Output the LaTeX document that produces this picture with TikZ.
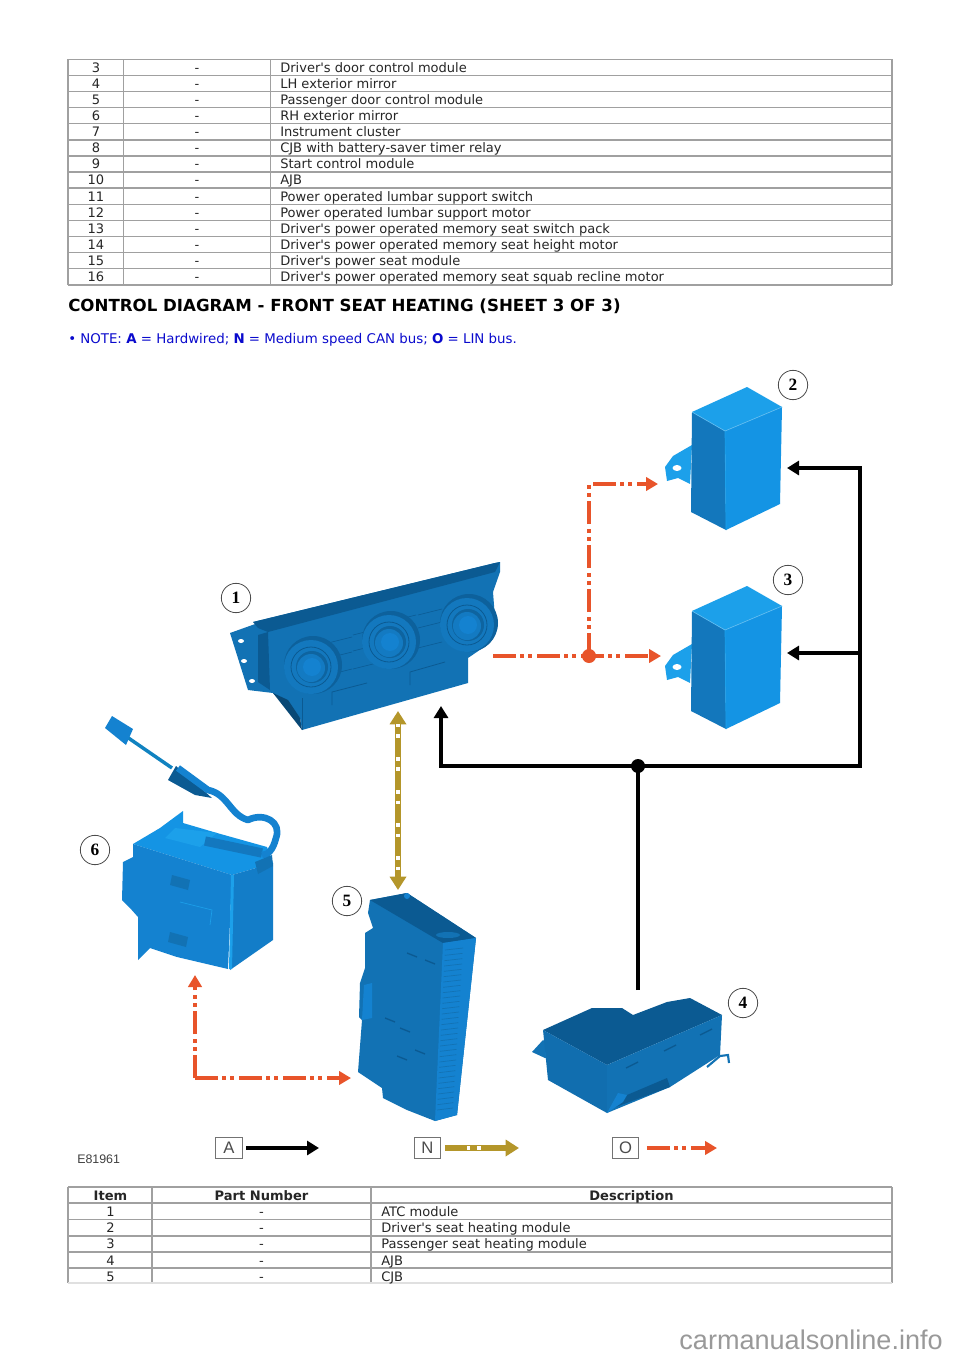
\documentclass[tikz,border=0pt]{standalone}
\usepackage{fontspec}
\setmainfont{DejaVu Sans}[Ligatures=TeXOff]
\newfontfamily\calloutfont{Liberation Serif}
\newfontfamily\legendfont{Liberation Sans}
\usetikzlibrary{positioning, arrows.meta, shapes}
\definecolor{rulegray}{HTML}{A0A0A0}
\definecolor{noteblue}{HTML}{0A0ACD}
\definecolor{busorange}{HTML}{E8542A}
\definecolor{busgold}{HTML}{B4962A}
\definecolor{blueshade}{HTML}{0B5A92}
\definecolor{bluebody}{HTML}{1272B4}
\definecolor{bluemid}{HTML}{1482D0}
\definecolor{bluebright}{HTML}{1494E4}
\definecolor{bluepale}{HTML}{1CA0EA}
\newcommand{\tablefont}{\fontsize{9.78pt}{11pt}\selectfont}
\newcommand{\seatmodule}[2]{
    \begin{scope}[shift={(#1,#2)}]
        \fill[bluepale] (692,445) -- (673,456) -- (665,467) -- (667,481) -- (678,478) -- (690,484) -- cycle;
        \fill[white] (677,468) ellipse (4.5 and 3);
        \fill[bluebody!70!bluemid] (692,412) -- (725,431) -- (726,530) -- (691,512) -- cycle;
        \fill[bluebright] (725,431) -- (782,407) -- (780,504) -- (726,530) -- cycle;
        \fill[bluepale] (692,412) -- (747,387) -- (782,407) -- (725,431) -- cycle;
        \draw[bluepale!70!white, line width=0.5pt] (692,412) -- (725,431) -- (782,407);
        \draw[bluepale, line width=0.5pt] (725,431) -- (726,530);
    \end{scope}
}
\tikzset{
    hardwired/.style={line width=3.1pt, draw=black},
    hardtip/.style={-{Triangle[width=10.5pt,length=9pt]}},
    linbus/.style={line width=3.1pt, draw=busorange, dash pattern=on 17pt off 3.5pt on 3pt off 3pt on 3pt off 3.5pt},
    lintip/.style={-{Triangle[width=10pt,length=9pt]}},
    canbus/.style={line width=4.6pt, draw=busgold},
    cantip/.tip={Triangle[width=12pt,length=10pt]},
    candots/.style={line width=2.4pt, draw=white, dash pattern=on 2.6pt off 5.2pt on 2.6pt off 14.4pt},
    callout/.style={shape=circle, draw=black!70, fill=white, line width=0.6pt, minimum size=22pt, inner sep=0pt, font=\calloutfont\bfseries\fontsize{13pt}{13pt}\selectfont},
    legendbox/.style={draw=black!55, line width=0.7pt, minimum width=20pt, minimum height=15.5pt, inner sep=0pt, outer sep=3pt, text=black!70, font=\legendfont\fontsize{12.5pt}{13pt}\selectfont},
    cell/.style={inner sep=0pt, anchor=base, font=\tablefont, text=black!85},
    celltext/.style={cell, anchor=base west},
    headcell/.style={cell, font=\tablefont\bfseries},
    partline/.style={blueshade, line width=0.6pt}
}
\begin{document}
\begin{tikzpicture}[x=0.75pt, y=-0.75pt]
    \fill[white] (0,0) rectangle (960,1358);
    \useasboundingbox (0,0) rectangle (960,1358);

    \foreach \i in {0,...,14}
        \draw[rulegray, line width=1.1pt] (68,59.3+16.11*\i) -- (892,59.3+16.11*\i);
    \foreach \xpos in {68,123.7,270.3,892}
        \draw[rulegray, line width=1.1pt] (\xpos,59.3) -- (\xpos,284.9);
    \foreach \num/\desc [count=\i from 0] in {3/Driver's door control module, 4/LH exterior mirror, 5/Passenger door control module, 6/RH exterior mirror, 7/Instrument cluster, 8/CJB with battery-saver timer relay, 9/Start control module, 10/AJB, 11/Power operated lumbar support switch, 12/Power operated lumbar support motor, 13/Driver's power operated memory seat switch pack, 14/Driver's power operated memory seat height motor, 15/Driver's power seat module, 16/Driver's power operated memory seat squab recline motor} {
        \node[cell] (upnum\num) at (96,72.2+16.11*\i) {\num};
        \node[cell] (updash\num) at (197,72.2+16.11*\i) {-};
        \node[celltext] (updesc\num) at (280,72.2+16.11*\i) {\desc};
    }

    \node[inner sep=0pt, anchor=base west, font=\bfseries\fontsize{12.47pt}{14pt}\selectfont, text=black] (heading) at (68,311.5) {CONTROL DIAGRAM - FRONT SEAT HEATING (SHEET 3 OF 3)};
    \node[inner sep=0pt, anchor=base west, font=\fontsize{10.02pt}{11pt}\selectfont, text=noteblue] (note) at (68,343.5) {• NOTE: \textbf{A} = Hardwired; \textbf{N} = Medium speed CAN bus; \textbf{O} = LIN bus.};

    \seatmodule{0}{0}
    \seatmodule{0}{199}

    % ATC module
    \fill[bluebody] (230,633) -- (258,623) -- (253,622) -- (495,563) -- (500,562) -- (500,572) -- (493,592) -- (495,618) -- (487,645) -- (468,658) -- (468,683) -- (302,730) -- (300,718) -- (288,708) -- (273,693) -- (248,690) -- cycle;
    \fill[blueshade] (253,622) -- (495,563) -- (500,562) -- (495,572) -- (268,632) -- (258,628) -- cycle;
    \fill[blueshade] (258,635) -- (268,632) -- (270,690) -- (258,682) -- cycle;
    \fill[blueshade!80!black] (273,693) -- (302,730) -- (300,718) -- (288,700) -- cycle;
    \draw[partline] (302,698) -- (302,730);
    \foreach \xpos/\ypos in {404/618, 404/630, 404/650, 430/612, 430/625, 430/645, 340/640, 340/655, 340/672, 365/632, 365/648, 365/666}
        \draw[partline, line width=0.4pt] (\xpos-12,\ypos+3) -- (\xpos+12,\ypos-3);
    \foreach \knobx/\knoby in {311/667, 389/642, 467/625} {
        \fill[blueshade!70!bluebody] (\knobx+2,\knoby-2) circle (29);
        \fill[bluebody!65!bluemid] (\knobx,\knoby) circle (27);
        \draw[partline] (\knobx,\knoby) circle (20);
        \fill[blueshade!60!bluebody] (\knobx+1,\knoby) circle (16);
        \fill[bluebody!50!bluemid] (\knobx,\knoby+1) circle (14);
        \fill[bluemid] (\knobx+1,\knoby) circle (9);
    }
    \foreach \holex/\holey in {241/641, 244/661, 252/681}
        \fill[white] (\holex,\holey) ellipse (3 and 2);
    \draw[partline] (332,705) -- (332,692) -- (367,683);
    \draw[partline] (410,685) -- (410,672) -- (445,662);

    % driver's seat switch pack
    \fill[bluebright] (133,844) -- (160,828) -- (183,811) -- (183,823) -- (217,833) -- (267,847) -- (273,863) -- (232,875) -- cycle;
    \fill[bluemid] (133,844) -- (232,875) -- (228,969) -- (177,957) -- (150,948) -- (138,960) -- (138,917) -- (130,908) -- (122,900) -- (123,862) -- (133,857) -- cycle;
    \fill[bluemid!70!bluebody] (232,875) -- (273,863) -- (273,940) -- (230,970) -- cycle;
    \fill[bluepale] (231,875) -- (234,875) -- (232,969) -- (229,969) -- cycle;
    \fill[bluepale] (175,828) -- (217,833) -- (200,847) -- (165,838) -- cycle;
    \fill[bluebody] (172,875) -- (190,880) -- (188,890) -- (170,885) -- cycle;
    \fill[bluebody] (170,932) -- (188,937) -- (186,947) -- (168,942) -- cycle;
    \draw[bluepale, line width=0.5pt] (180,902) -- (212,910) -- (210,925);
    \draw[bluemid!80!teal, line width=2.6pt] (127,737) -- (172,768);
    \fill[bluemid] (105,728) -- (112,716) -- (133,729) -- (126,745) -- cycle;
    \fill[blueshade] (168,780) -- (176,766) -- (212,798) -- (195,795) -- cycle;
    \draw[bluebody!60!bluemid, line width=7pt, line join=round] (205,841) -- (262,853);
    \draw[bluemid, line width=5pt, line join=round] (178,768) -- (208,790) .. controls (228,794) and (230,815) .. (248,820) .. controls (264,812) and (282,822) .. (276,838) .. controls (273,850) and (268,855) .. (262,855);
    \fill[bluebody] (255,862) -- (272,855) -- (273,866) -- (258,874) -- cycle;

    % CJB
    \fill[bluebody] (370,900) -- (407,893) -- (476,938) -- (457,1115) -- (435,1121) -- (407,1110) -- (383,1098) -- (382,1088) -- (358,1072) -- (362,1020) -- (359,1017) -- (360,983) -- (365,968) -- (365,933) -- (373,928) -- (368,913) -- cycle;
    \fill[blueshade] (370,900) -- (407,893) -- (476,938) -- (443,943) -- cycle;
    \fill[bluemid] (443,943) -- (476,938) -- (457,1115) -- (435,1121) -- cycle;
    \foreach \i in {0,...,30}
        \draw[bluebody, line width=0.5pt] (445-8*\i/30,950+160*\i/30) -- (463-10*\i/30,948+160*\i/30);
    \fill[bluemid] (407,896) circle (3);
    \fill[bluebody] (448,935) ellipse (12 and 3);
    \foreach \xpos/\ypos in {412/955, 430/962, 390/1020, 405/1030, 402/1058, 420/1052}
        \draw[blueshade, line width=1pt] (\xpos-5,\ypos-2) -- (\xpos+5,\ypos+2);
    \fill[bluemid] (362,1020) -- (364,985) -- (372,983) -- (372,1018) -- cycle;

    % AJB
    \fill[bluebody] (532,1052) -- (543,1040) -- (555,1048) -- (554,1060) -- (545,1058) -- cycle;
    \fill[bluepale] (545,1047) -- (555,1048) -- (554,1060) -- (546,1058) -- cycle;
    \fill[blueshade] (543,1030) -- (592,1008) -- (622,1008) -- (633,1015) -- (667,1002) -- (690,998) -- (722,1015) -- (607,1065) -- cycle;
    \fill[bluebody!85!blueshade] (543,1030) -- (607,1065) -- (607,1113) -- (548,1080) -- cycle;
    \fill[bluebody] (607,1065) -- (722,1015) -- (720,1055) -- (670,1087) -- (607,1113) -- cycle;
    \fill[blueshade] (613,1108) -- (670,1087) -- (667,1078) -- (627,1095) -- cycle;
    \fill[bluemid] (607,1113) -- (618,1093) -- (627,1095) -- (623,1102) -- cycle;
    \foreach \xpos/\ypos in {632/1065, 670/1048, 706/1032}
        \draw[blueshade, line width=1pt] (\xpos-6,\ypos+3) -- (\xpos+6,\ypos-3);
    \draw[bluebody, line width=1.6pt] (707,1067) -- (720,1056) -- (728,1055) -- (729,1063);

    \coordinate (atcOut) at (493,656);
    \coordinate (mod3Lin) at (661,656);
    \coordinate (mod2Lin) at (658,484);
    \node[shape=circle, fill=busorange, inner sep=0pt, minimum size=10.5pt] (linJoin) at (589,656) {};
    \draw[linbus, lintip] (atcOut) -- (mod3Lin);
    \draw[linbus, lintip] (linJoin.center) |- (mod2Lin);

    \coordinate (atcCan) at (398,711);
    \coordinate (cjbCan) at (398,890);
    \draw[canbus, cantip-cantip] (atcCan) -- (cjbCan);
    \coordinate (canDotTop) at (398,724);
    \coordinate (canDotEnd) at (398,876);
    \draw[candots] (canDotTop) -- (canDotEnd);

    \coordinate (ajbOut) at (638,990);
    \coordinate (atcFeed) at (441,706);
    \coordinate (railTee) at (860,653);
    \coordinate (mod2Feed) at (787,468);
    \coordinate (mod3Feed) at (787,653);
    \node[shape=circle, fill=black, inner sep=0pt, minimum size=10.5pt] (feedJoin) at (638,766) {};
    \draw[hardwired] (ajbOut) -- (feedJoin.center);
    \draw[hardwired, hardtip] (feedJoin.center) -| (atcFeed);
    \draw[hardwired, hardtip] (feedJoin.center) -| (railTee) |- (mod2Feed);
    \draw[hardwired, hardtip] (railTee) -- (mod3Feed);

    \coordinate (cjbLin) at (351,1078);
    \coordinate (packLin) at (195,975);
    \coordinate (linCorner) at (195,1078);
    \draw[linbus, lintip] (linCorner) -- (packLin);
    \draw[linbus, lintip] (linCorner) -- (cjbLin);

    \node[callout] (one) at (236,598) {1};
    \node[callout] (two) at (793,385) {2};
    \node[callout] (three) at (788,580) {3};
    \node[callout] (four) at (743,1003) {4};
    \node[callout] (five) at (347,901) {5};
    \node[callout] (six) at (95,850) {6};

    \node[legendbox] (legendA) at (229,1148) {A};
    \node[legendbox] (legendN) at (427.5,1148) {N};
    \node[legendbox] (legendO) at (625.5,1148) {O};
    \coordinate (legendAEnd) at (319,1148);
    \coordinate (legendNEnd) at (519,1148);
    \coordinate (legendOEnd) at (717,1148);
    \draw[hardwired, hardtip] (legendA) -- (legendAEnd);
    \draw[canbus, line width=4.2pt, -cantip] (legendN) -- (legendNEnd);
    \coordinate (legendNDots) at (467,1148);
    \coordinate (legendNStop) at (484,1148);
    \draw[candots] (legendNDots) -- (legendNStop);
    \draw[linbus, lintip, shorten <=3pt] (legendO) -- (legendOEnd);

    \node[inner sep=0pt, anchor=base west, font=\legendfont\fontsize{9.3pt}{10pt}\selectfont, text=black!75] (figcode) at (77,1163) {E81961};

    \foreach \xpos in {68,152,371,892}
        \draw[rulegray, line width=1.1pt] (\xpos,1187) -- (\xpos,1283);
    \foreach \ypos in {1187,1203,1219.5,1236,1252,1268}
        \draw[rulegray, line width=1.1pt] (68,\ypos) -- (892,\ypos);
    \draw[black!12, line width=0.8pt] (68,1283) -- (892,1283);
    \node[headcell] (headItem) at (110.5,1200.2) {Item};
    \node[headcell] (headPart) at (261.5,1200.2) {Part Number};
    \node[headcell] (headDesc) at (631.5,1200.2) {Description};
    \foreach \num/\desc [count=\i from 0] in {1/ATC module, 2/Driver's seat heating module, 3/Passenger seat heating module, 4/AJB, 5/CJB} {
        \node[cell] (lownum\num) at (110.5,1216.4+16.2*\i) {\num};
        \node[cell] (lowdash\num) at (261.5,1216.4+16.2*\i) {-};
        \node[celltext] (lowdesc\num) at (381,1216.4+16.2*\i) {\desc};
    }

    \node[inner sep=0pt, anchor=base east, font=\legendfont\fontsize{20.3pt}{22pt}\selectfont, text=black!40] (watermark) at (943,1349) {carmanualsonline.info};
\end{tikzpicture}
\end{document}
